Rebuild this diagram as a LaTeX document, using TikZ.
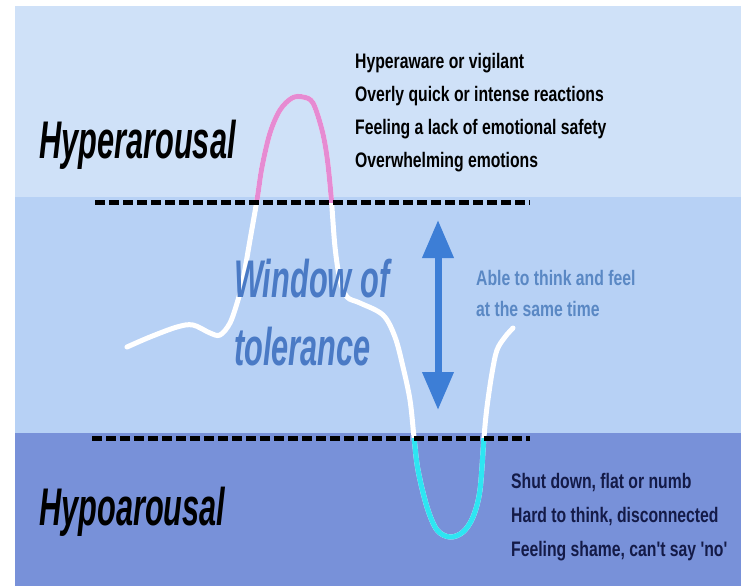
\documentclass[tikz,border=0pt]{standalone}
\usepackage{fontspec}
\setmainfont{Liberation Sans}
\newfontfamily\condfont[FakeStretch=0.58]{Liberation Sans}
\newfontfamily\listfont[FakeStretch=0.75]{Liberation Sans}
\usetikzlibrary{arrows.meta, positioning}

\definecolor{hyperband}{HTML}{CFE1F8}
\definecolor{windowband}{HTML}{B7D1F5}
\definecolor{hypoband}{HTML}{7891D9}
\definecolor{windowtext}{HTML}{4A7AC5}
\definecolor{windowarrow}{HTML}{3D7ED6}
\definecolor{abletext}{HTML}{5A88C4}
\definecolor{hypotext}{HTML}{141B48}
\definecolor{peakpink}{HTML}{E68BD2}
\definecolor{dipcyan}{HTML}{2EE5F2}

% the arousal line, in pixel coordinates
\def\arousalcurve{plot[smooth, tension=0.55] coordinates {
    (127,347) (150,337) (177,327) (193,325) (210,333) (220,335) (230,323)
    (238,300) (243,280) (250,240) (257,200) (262,167) (270,133) (280,110)
    (292,98) (303,97) (313,103) (322,130) (327,157) (331,195) (335,247)
    (340,280) (347,297) (360,303) (383,315) (395,337) (403,367) (410,400)
    (414,437) (418,470) (427,507) (437,530) (450,537) (463,532) (473,517)
    (480,490) (484,437) (487,407) (492,373) (497,350) (505,337) (513,328)}}

\begin{document}
\begin{tikzpicture}[x=1pt, y=-1pt,
    zone/.style={inner sep=0pt, anchor=base west, font=\condfont\bfseries\itshape\fontsize{53}{68}\selectfont},
    listtext/.style={inner sep=0pt, anchor=base west, font=\listfont\bfseries\fontsize{21}{33}\selectfont},
    limit/.style={line width=5pt, dash pattern=on 10pt off 4pt},
    wave/.style={line width=5pt, line cap=round, line join=round}]
    \useasboundingbox (0,0) rectangle (741,586);

    % background bands
    \fill[hyperband] (15,6) rectangle (741,197);
    \fill[windowband] (15,197) rectangle (741,433);
    \fill[hypoband] (15,433) rectangle (741,586);

    % arousal line, pink above and cyan below the window
    \draw[wave, white] \arousalcurve;
    \begin{scope}
        \clip (0,0) rectangle (741,202);
        \draw[wave, peakpink] \arousalcurve;
    \end{scope}
    \begin{scope}
        \clip (0,438) rectangle (741,586);
        \draw[wave, dipcyan] \arousalcurve;
    \end{scope}

    % limits of the window
    \coordinate (upleft) at (95,202);
    \coordinate (upright) at (530,202);
    \coordinate (lowleft) at (92,438);
    \coordinate (lowright) at (530,438);
    \draw[limit] (upleft) -- (upright);
    \draw[limit] (lowleft) -- (lowright);

    \coordinate (wintop) at (438,220);
    \coordinate (winbot) at (438,410);
    \draw[windowarrow, line width=7pt, {Triangle[width=30pt, length=38pt]}-{Triangle[width=30pt, length=38pt]}] (wintop) -- (winbot);

    % labels
    \node[zone] (hyper) at (39,158) {Hyperarousal};
    \node[zone] (hypo) at (39,525) {Hypoarousal};
    \node[zone, windowtext] (win1) at (234,297) {Window of};
    \node[zone, windowtext, below=68pt of win1.base west, anchor=base west] (win2) {tolerance};

    \node[listtext] (hyper1) at (355,68) {Hyperaware or vigilant};
    \node[listtext, below=33.3pt of hyper1.base west, anchor=base west] (hyper2) {Overly quick or intense reactions};
    \node[listtext, below=33.3pt of hyper2.base west, anchor=base west] (hyper3) {Feeling a lack of emotional safety};
    \node[listtext, below=33.3pt of hyper3.base west, anchor=base west] (hyper4) {Overwhelming emotions};

    \node[listtext, abletext] (able1) at (476,285) {Able to think and feel};
    \node[listtext, abletext, below=31pt of able1.base west, anchor=base west] (able2) {at the same time};

    \node[listtext, hypotext] (hypo1) at (511,488) {Shut down, flat or numb};
    \node[listtext, hypotext, below=34pt of hypo1.base west, anchor=base west] (hypo2) {Hard to think, disconnected};
    \node[listtext, hypotext, below=34pt of hypo2.base west, anchor=base west] (hypo3) {Feeling shame, can't say 'no'};
\end{tikzpicture}
\end{document}
